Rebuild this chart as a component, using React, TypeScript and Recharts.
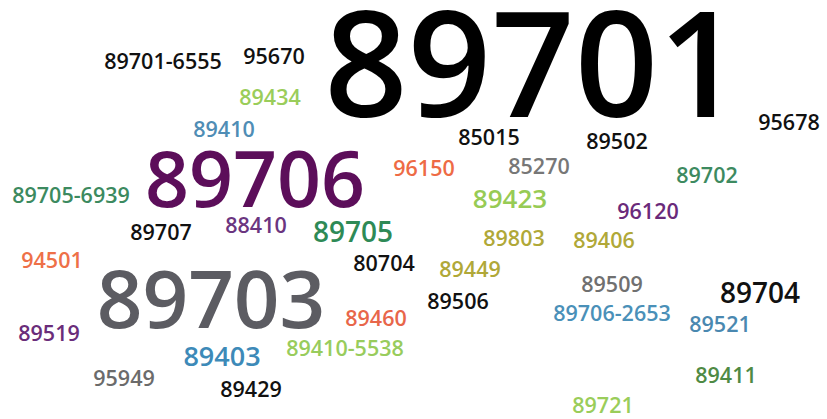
import { ScatterChart, Scatter, XAxis, YAxis } from "recharts";

// word cloud of zip codes: position (centre of the digits), font size, colour
const words = [
  "89701", "89706", "89703", "89705", "89704", "89423", "89403",
  "89701-6555", "95670", "89434", "89410", "95678", "85015", "89502",
  "96150", "85270", "89702", "89705-6939", "89707", "88410", "96120",
  "89803", "89406", "94501", "80704", "89449", "89509", "89506",
  "89460", "89706-2653", "89521", "89519", "89410-5538", "95949",
  "89429", "89411", "89721",
];
const xs = [
  533, 255, 211, 353, 760, 510, 222,
  163, 274, 270, 224, 789, 489, 617,
  424, 539, 707, 71, 161, 256, 648,
  514, 604, 52, 384, 470, 612, 458,
  376, 612, 720, 49, 345, 124,
  251, 726, 603,
];
const ys = [
  65, 180, 299, 232, 293, 199, 356,
  61, 56, 97, 129, 122, 137, 141,
  168, 166, 175, 195, 232, 225, 211,
  238, 240, 260, 263, 269, 284, 301,
  318, 313, 324, 333, 348, 378,
  389, 375, 405,
];
const sizes = [
  146, 77, 80, 28, 28, 26, 27,
  21.5, 21.5, 21.5, 21.5, 21.5, 21.5, 21.5,
  21.5, 21.5, 21.5, 21.5, 21.5, 21.5, 21.5,
  21.5, 21.5, 21.5, 21.5, 21.5, 21.5, 21.5,
  21.5, 21.5, 21.5, 21.5, 21.5, 21.5,
  21.5, 21.5, 21.5,
];
const colors = [
  "#000000", "#5c0e5a", "#5c5c62", "#2e8a56", "#111111", "#97cb55", "#3d8ab8",
  "#111111", "#111111", "#9acd5a", "#4f8db5", "#111111", "#111111", "#111111",
  "#ee6b45", "#777777", "#3d8a60", "#3c8a5f", "#111111", "#6b3580", "#6a2a7a",
  "#b0a838", "#b0a838", "#ee7048", "#111111", "#b0a838", "#707070", "#111111",
  "#e8664a", "#4a90b8", "#4a88b0", "#6a2d7a", "#98cc5c", "#6b6b6b",
  "#111111", "#4f8a44", "#9acd5a",
];

const data = words.map((w, i) => ({
  word: w,
  x: xs[i],
  y: ys[i],
  size: sizes[i],
  color: colors[i],
}));

const Word = (props: any) => {
  const { cx, cy, payload } = props;
  return (
    <text
      x={cx}
      y={cy + payload.size * 0.357}
      textAnchor="middle"
      fontSize={payload.size}
      fontWeight={600}
      fontFamily="'Open Sans', sans-serif"
      fill={payload.color}
    >
      {payload.word}
    </text>
  );
};

export default function App() {
  return (
    <div style={{ position: "absolute", left: 0, top: 0, background: "#fff" }}>
      <ScatterChart width={827} height={419} margin={{ top: 0, right: 0, bottom: 0, left: 0 }}>
        <XAxis type="number" dataKey="x" domain={[0, 827]} hide />
        <YAxis type="number" dataKey="y" domain={[0, 419]} reversed hide />
        <Scatter data={data} shape={<Word />} isAnimationActive={false} />
      </ScatterChart>
    </div>
  );
}
